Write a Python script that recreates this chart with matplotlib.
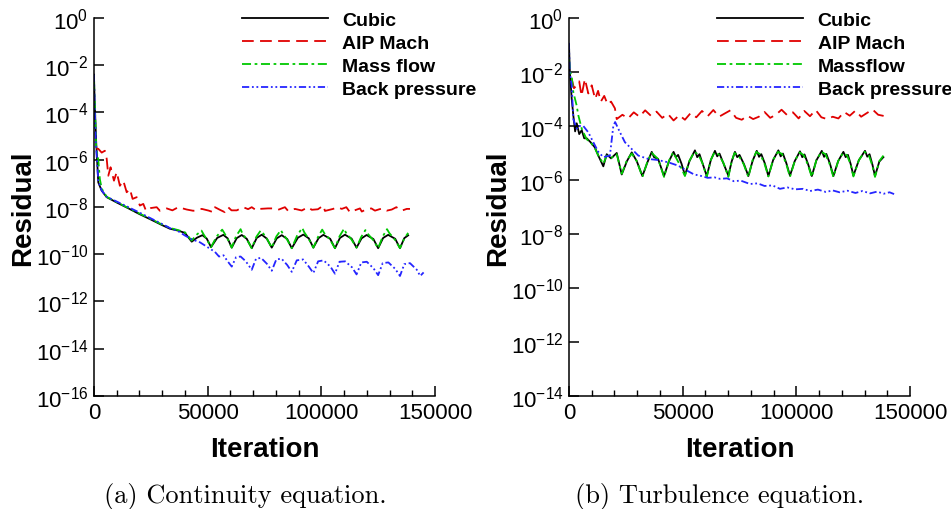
import matplotlib
matplotlib.use('Agg')
import matplotlib.pyplot as plt
from matplotlib.ticker import FixedLocator, NullLocator

plt.rcParams['font.family'] = ['Liberation Sans', 'DejaVu Sans']
plt.rcParams['mathtext.fontset'] = 'custom'
plt.rcParams['mathtext.rm'] = 'Liberation Sans'
plt.rcParams['axes.unicode_minus'] = False

LABELS_A = ['Cubic', 'AIP Mach', 'Mass flow', 'Back pressure']
LABELS_B = ['Cubic', 'AIP Mach', 'Massflow', 'Back pressure']
CAPTIONS = ['(a) Continuity equation.', '(b) Turbulence equation.']

# ---- (a) continuity residual history ----
it_cubic_a = [0, 300, 700, 1000, 1900, 3400, 5600, 10000, 15000, 20000, 25000, 30000, 33400,
              37000, 40000, 43000,
              45300, 47700, 49600, 51500,
              54200, 56900, 58800, 60600,
              62800, 65000, 67200, 69400,
              71600, 73800, 76000, 78200,
              80400, 82600, 85000, 87000,
              89700, 92100, 94500, 96500,
              98800, 100900, 103900, 106000,
              108200, 110400, 113300, 115500,
              117700, 119900, 122900, 125000,
              127200, 129400, 132500, 134600,
              136500, 138200]
res_cubic_a = [4e-3, 3e-4, 3e-5, 5e-6, 1.1e-7, 4.9e-8, 2.6e-8, 1.55e-8, 8.9e-9, 5.0e-9, 2.95e-9, 1.7e-9, 1.2e-9,
               1.0e-9, 8.0e-10, 3.4e-10,
               5.0e-10, 6.4e-10, 4.6e-10, 2.0e-10,
               4.9e-10, 6.6e-10, 4.7e-10, 1.9e-10,
               4.8e-10, 6.5e-10, 4.5e-10, 1.8e-10,
               4.9e-10, 6.7e-10, 4.6e-10, 1.9e-10,
               4.7e-10, 6.4e-10, 4.4e-10, 1.8e-10,
               5.0e-10, 6.8e-10, 4.7e-10, 1.9e-10,
               4.8e-10, 6.6e-10, 4.5e-10, 1.8e-10,
               4.9e-10, 6.7e-10, 4.6e-10, 1.9e-10,
               4.7e-10, 6.5e-10, 4.4e-10, 1.8e-10,
               4.9e-10, 6.6e-10, 4.5e-10, 1.8e-10,
               4.8e-10, 6.3e-10]

it_aip_a = [1000, 1900, 3400, 4800, 5600, 6300, 7300, 8800, 10000, 11400, 12900, 14400, 15800,
            17000, 18800, 20200, 21700, 22900, 25000, 27600, 29000, 32000, 34500, 37100, 40800,
            43700, 47400, 50500, 52500, 53200, 55500, 57600, 59000, 60500, 62800, 65600, 67800,
            69400, 71500, 73000, 76500, 78900, 81000, 84000, 85400, 88400, 91400, 94200, 95800,
            98500, 100900, 101600, 105200, 107000, 109000, 111000, 112600, 115000, 117000, 117800,
            120000, 122000, 123600, 125500, 127000, 128800, 131000, 133000, 135400, 137600, 139000]
res_aip_a = [3.0e-6, 2.9e-6, 2.0e-6, 2.4e-6, 1.1e-6, 2.1e-7, 4.8e-7, 1.3e-7, 3.0e-7, 7.9e-8, 1.3e-7, 4.2e-8, 5.8e-8,
             2.2e-8, 2.6e-8, 1.15e-8, 1.35e-8, 6.9e-9, 9.0e-9, 9.8e-9, 6.9e-9, 8.7e-9, 7.2e-9, 9.8e-9, 7.8e-9,
             6.9e-9, 8.3e-9, 7.0e-9, 6.0e-9, 9.8e-9, 7.5e-9, 6.0e-9, 9.8e-9, 7.2e-9, 7.2e-9, 9.8e-9, 8.1e-9,
             9.8e-9, 7.1e-9, 8.3e-9, 8.7e-9, 8.7e-9, 7.6e-9, 9.8e-9, 6.8e-9, 8.3e-9, 7.1e-9, 9.8e-9, 7.6e-9,
             8.0e-9, 1.15e-8, 6.8e-9, 8.3e-9, 9.8e-9, 8.3e-9, 9.8e-9, 6.0e-9, 7.4e-9, 8.7e-9, 6.4e-9,
             8.1e-9, 8.7e-9, 7.0e-9, 8.0e-9, 8.7e-9, 7.0e-9, 7.8e-9, 9.8e-9, 7.0e-9, 8.3e-9, 8.3e-9]

it_mass_a = [0, 500, 1000, 1900, 2600, 3400, 5600, 10000, 15000, 20000, 25000, 30000, 33400,
             37000, 40000, 43000,
             45000, 47300, 48200, 49800, 51500,
             53900, 56400, 57300, 58900, 60600,
             62500, 64500, 65300, 67400, 69400,
             71400, 73300, 74200, 76200, 78200,
             80200, 82200, 83000, 85000, 87000,
             89300, 91600, 92500, 94500, 96500,
             98600, 100400, 101300, 103800, 106000,
             108000, 110000, 110900, 113200, 115500,
             117500, 119400, 120400, 122800, 125000,
             127000, 128900, 129900, 132400, 134600,
             136500, 138200]
res_mass_a = [2e-3, 1e-4, 3e-6, 1e-6, 1.5e-7, 6e-8, 2.7e-8, 1.6e-8, 9.2e-9, 5.3e-9, 3.1e-9, 1.8e-9, 1.3e-9,
              1.05e-9, 8.5e-10, 3.8e-10,
              6.5e-10, 1.0e-9, 7.0e-10, 4.0e-10, 2.0e-10,
              5.5e-10, 1.1e-9, 8.0e-10, 4.2e-10, 1.9e-10,
              5.8e-10, 1.15e-9, 7.5e-10, 4.0e-10, 1.8e-10,
              5.4e-10, 1.0e-9, 8.2e-10, 4.3e-10, 1.9e-10,
              5.6e-10, 1.05e-9, 7.6e-10, 4.1e-10, 1.8e-10,
              6.0e-10, 1.3e-9, 8.5e-10, 4.4e-10, 1.9e-10,
              5.5e-10, 1.1e-9, 7.8e-10, 4.2e-10, 1.8e-10,
              5.7e-10, 1.2e-9, 8.0e-10, 4.3e-10, 1.9e-10,
              5.3e-10, 1.05e-9, 7.4e-10, 4.0e-10, 1.8e-10,
              5.6e-10, 1.15e-9, 7.9e-10, 4.1e-10, 1.8e-10,
              4.6e-10, 8.0e-10]

it_back_a = [0, 300, 800, 1900, 3400, 5600, 10000, 15000, 20000, 25000, 30000, 34000, 37000, 40000,
             43000, 46600, 50300, 53200,
             55000, 57000, 58800, 60600,
             62500, 64500, 66800, 69400,
             71300, 73500, 76000, 78200,
             80200, 82500, 85000, 87000,
             89200, 92000, 94500, 96500,
             98600, 101000, 104000, 106000,
             108000, 110500, 113500, 115500,
             117600, 120000, 123000, 125000,
             127000, 129500, 132500, 134600,
             136500, 139000, 142000, 143500, 145000]
res_back_a = [4e-3, 2e-4, 6e-6, 1.2e-7, 5e-8, 2.7e-8, 1.7e-8, 1.0e-8, 5.8e-9, 3.3e-9, 1.9e-9, 1.2e-9, 9.5e-10, 6.2e-10,
              4.3e-10, 3.2e-10, 1.9e-10, 1.26e-10,
              8.0e-11, 9.0e-11, 5.0e-11, 3.0e-11,
              7.5e-11, 8.0e-11, 5.0e-11, 2.2e-11,
              6.5e-11, 7.0e-11, 4.0e-11, 2.0e-11,
              6.0e-11, 6.5e-11, 3.5e-11, 1.8e-11,
              5.5e-11, 6.0e-11, 3.0e-11, 1.6e-11,
              5.0e-11, 5.5e-11, 3.0e-11, 1.5e-11,
              4.8e-11, 5.0e-11, 2.8e-11, 1.4e-11,
              4.5e-11, 4.8e-11, 2.5e-11, 1.3e-11,
              4.2e-11, 4.5e-11, 2.4e-11, 1.2e-11,
              3.8e-11, 4.2e-11, 2.2e-11, 1.2e-11, 1.7e-11]

# ---- (b) turbulence residual history ----
it_cubic_b = [0, 400, 1200, 1900, 2700, 3400, 4500, 5600, 6700, 7800, 9500, 11400, 12900, 15100,
              16600, 18500, 21000, 23200, 25500, 27600, 28800, 29800, 32300, 34500, 36400, 37400,
              39200, 41800, 44000, 46000, 47000, 48000, 49500, 51000,
              53000, 55400, 56400, 57400, 58800, 60600,
              62400, 64200, 65200, 66200, 68000, 70100,
              71600, 73000, 74000, 75000, 77000, 78900,
              80800, 82600, 83600, 84600, 86200, 87700,
              89800, 92100, 93100, 94100, 95600, 97200,
              99300, 101600, 102600, 103600, 105200, 106800,
              108800, 111200, 112200, 113200, 114800, 116300,
              118400, 120700, 121700, 122700, 123900, 125100,
              127500, 130200, 131200, 132200, 133500, 134600,
              136500, 138300]
res_cubic_b = [1e-1, 1e-2, 1e-3, 2.5e-4, 6.3e-5, 1.26e-4, 5e-5, 7e-5, 3.5e-5, 3.5e-5, 2.5e-5, 1.6e-5, 8e-6, 3.2e-6,
               9e-6, 6.3e-6, 1e-5, 1.6e-6, 5e-6, 1.05e-5, 7e-6, 5e-6, 1.4e-6, 4.5e-6, 1.1e-5, 7e-6,
               6e-6, 1.4e-6, 5e-6, 1.1e-5, 7e-6, 8.5e-6, 4e-6, 1.5e-6,
               5e-6, 1.25e-5, 7e-6, 9e-6, 4e-6, 1.4e-6,
               5.5e-6, 1.2e-5, 7.5e-6, 9.5e-6, 4e-6, 1.45e-6,
               5e-6, 1.1e-5, 7e-6, 8.5e-6, 3.8e-6, 1.4e-6,
               5.2e-6, 1.2e-5, 7.2e-6, 9e-6, 4e-6, 1.4e-6,
               5.5e-6, 1.25e-5, 7.5e-6, 9.5e-6, 4.2e-6, 1.45e-6,
               5e-6, 1.15e-5, 7e-6, 8.8e-6, 3.8e-6, 1.4e-6,
               5.3e-6, 1.2e-5, 7.2e-6, 9.2e-6, 4e-6, 1.4e-6,
               5e-6, 1.1e-5, 7e-6, 8.5e-6, 3.9e-6, 1.45e-6,
               5.4e-6, 1.2e-5, 7.3e-6, 9e-6, 3.6e-6, 1.4e-6,
               4.8e-6, 7e-6]

it_aip_b = [1200, 2200, 3400, 4500, 5500, 7000, 8500, 10000, 11500, 12800, 14000, 15500, 17000,
            18500, 20200, 21000, 23500, 26000, 28500, 31000, 33500, 36000, 38500, 41000, 43500,
            46000, 48500, 51000, 53500, 56000, 58500, 61000, 63500, 66000, 68500, 71000, 73500,
            76000, 78500, 81000, 83500, 86000, 88500, 91000, 93500, 96000, 98500, 101000, 103500,
            106000, 108500, 111000, 113500, 116000, 118500, 121000, 123500, 126000, 128500,
            131000, 133500, 136000, 139000]
res_aip_b = [5.5e-3, 2.5e-3, 3.2e-3, 4.5e-3, 1.3e-3, 5.5e-3, 1.6e-3, 3.2e-3, 1.0e-3, 2.0e-3, 8e-4, 1.3e-3, 6.3e-4,
             8e-4, 4.5e-4, 1.8e-4, 2.6e-4, 1.9e-4, 3.2e-4, 2.2e-4, 3.8e-4, 2.4e-4, 3.4e-4, 2.0e-4, 2.8e-4,
             1.6e-4, 2.5e-4, 1.7e-4, 3.0e-4, 2.1e-4, 3.6e-4, 2.3e-4, 3.9e-4, 2.2e-4, 2.9e-4, 3.8e-4, 2.0e-4,
             1.7e-4, 2.4e-4, 1.8e-4, 2.2e-4, 3.3e-4, 2.0e-4, 2.6e-4, 4.0e-4, 2.5e-4, 3.2e-4, 1.9e-4, 3.6e-4,
             2.3e-4, 3.9e-4, 2.1e-4, 1.8e-4, 2.2e-4, 1.9e-4, 3.3e-4, 2.4e-4, 3.7e-4, 2.2e-4,
             3.0e-4, 4.1e-4, 2.6e-4, 2.3e-4]

it_mass_b = [0, 500, 1200, 1900, 3400, 4100, 5600, 6700, 7800, 9500, 11400, 12900, 15100,
             16600, 18500, 21000, 23200, 25500, 27600, 29800, 32300, 34500, 36400, 39200, 41800,
             44000, 45800, 48500, 51000,
             53000, 55200, 57000, 58800, 60600,
             62400, 64000, 65800, 68000, 70100,
             71600, 72800, 74600, 76800, 78900,
             80800, 82400, 84200, 86000, 87700,
             89800, 91900, 93700, 95500, 97200,
             99300, 101400, 103200, 105000, 106800,
             108800, 111000, 112800, 114600, 116300,
             118400, 120500, 122300, 123800, 125100,
             127500, 130000, 131800, 133300, 134600,
             136500, 138300]
res_mass_b = [3e-2, 1e-2, 7e-3, 1.8e-3, 5.6e-4, 2.5e-4, 8e-5, 5e-5, 3.2e-5, 2.5e-5, 1.5e-5, 8e-6, 4e-6,
              8e-6, 6.5e-6, 9e-6, 1.7e-6, 5.5e-6, 9.5e-6, 5e-6, 1.3e-6, 4.8e-6, 1.0e-5, 6e-6, 1.3e-6,
              5.2e-6, 1.05e-5, 4e-6, 1.4e-6,
              5.2e-6, 1.1e-5, 8.5e-6, 4e-6, 1.3e-6,
              5.6e-6, 1.05e-5, 9e-6, 4.2e-6, 1.3e-6,
              5e-6, 1.0e-5, 8e-6, 3.9e-6, 1.3e-6,
              5.5e-6, 1.1e-5, 8.8e-6, 4e-6, 1.35e-6,
              5.6e-6, 1.1e-5, 9.2e-6, 4.1e-6, 1.3e-6,
              5e-6, 1.05e-5, 8.4e-6, 3.8e-6, 1.3e-6,
              5.4e-6, 1.1e-5, 9e-6, 4e-6, 1.3e-6,
              5e-6, 1.0e-5, 8.2e-6, 3.9e-6, 1.35e-6,
              5.4e-6, 1.1e-5, 8.6e-6, 3.7e-6, 1.3e-6,
              5e-6, 8e-6]

it_back_b = [0, 300, 1200, 1900, 3400, 4100, 6300, 8500, 10700, 12900, 15100, 18000, 19500, 20300,
             22400, 24600, 27600, 30500, 34900, 39000, 43700, 48000, 52000, 55000, 57600, 61000,
             64000, 66400, 69500, 72500, 75500, 79600, 83000, 86000, 89500, 92800, 96000, 99500,
             103000, 106000, 109500, 113000, 116000, 119000, 122500, 126000, 129000, 132500,
             135500, 138500, 141000, 143000]
res_back_b = [1.2e-1, 1e-2, 3.2e-3, 1.8e-4, 8e-5, 1.0e-4, 1.0e-4, 5.8e-5, 2.5e-5, 1.1e-5, 7e-6, 8e-6, 1.0e-4, 1.4e-4,
              5.9e-5, 2.5e-5, 1.4e-5, 8e-6, 6e-6, 5.5e-6, 4.5e-6, 3.4e-6, 2.2e-6, 1.6e-6, 1.45e-6, 1.2e-6,
              1.25e-6, 1.1e-6, 1.15e-6, 9e-7, 9.5e-7, 7.1e-7, 7.5e-7, 6e-7, 6.3e-7, 4.7e-7, 5.3e-7, 4.5e-7,
              4.7e-7, 3.9e-7, 4.4e-7, 3.6e-7, 4.1e-7, 3.5e-7, 4.0e-7, 3.3e-7, 3.9e-7, 3.2e-7,
              3.7e-7, 3.1e-7, 3.5e-7, 3.0e-7]

YTICKS_A = [10.0 ** -k for k in range(0, 17, 2)]
YTICKS_B = [10.0 ** -k for k in range(0, 15, 2)]

COLORS = ['black', '#e00000', '#00c800', '#2525ff']
DASHES = [None, (6.5, 3.5), (5, 2, 1.5, 2), (4, 1.5, 1, 1.5, 1, 1.5)]

fig = plt.figure(figsize=(9.51, 5.10), dpi=100)
ax_a = fig.add_axes([0.0988, 0.2216, 0.3586, 0.7412])
ax_b = fig.add_axes([0.5983, 0.2216, 0.3586, 0.7412])

panels = [
    (ax_a, [(it_cubic_a, res_cubic_a), (it_aip_a, res_aip_a),
            (it_mass_a, res_mass_a), (it_back_a, res_back_a)], LABELS_A, YTICKS_A),
    (ax_b, [(it_cubic_b, res_cubic_b), (it_aip_b, res_aip_b),
            (it_mass_b, res_mass_b), (it_back_b, res_back_b)], LABELS_B, YTICKS_B),
]

for ax, series, labels, yticks in panels:
    for (it, res), lab, col, dsh in zip(series, labels, COLORS, DASHES):
        line, = ax.plot(it, res, color=col, lw=1.3, label=lab)
        if dsh is not None:
            line.set_dashes(dsh)
    ax.set_yscale('log')
    ax.set_ylim(yticks[-1], yticks[0])
    ax.set_xlim(0, 150000)
    ax.yaxis.set_major_locator(FixedLocator(yticks))
    ax.yaxis.set_minor_locator(NullLocator())
    ax.set_xticks([0, 50000, 100000, 150000])
    ax.set_xticks(range(0, 150001, 10000), minor=True)
    ax.set_xticklabels(['0', '50000', '100000', '150000'])
    ax.spines['top'].set_visible(False)
    ax.spines['right'].set_visible(False)
    for sp in ('left', 'bottom'):
        ax.spines[sp].set_linewidth(1.1)
    ax.tick_params(which='major', direction='in', length=7, width=1.1, labelsize=16, pad=4)
    ax.tick_params(which='minor', direction='in', length=4, width=1.0)
    ax.set_xlabel('Iteration', fontsize=20, fontweight='bold')
    ax.set_ylabel('Residual', fontsize=20, fontweight='bold')
    ax.xaxis.set_label_coords(0.5, -0.106)
    ax.yaxis.set_label_coords(-0.17, 0.5)
    ax.legend(loc='upper left', bbox_to_anchor=(0.434, 1.018), frameon=False,
              prop={'weight': 'bold', 'size': 14}, handlelength=4.4,
              handletextpad=0.77, labelspacing=0.28, borderpad=0, borderaxespad=0)

fig.text(0.2576, 0.0255, CAPTIONS[0], family='cmr10', fontsize=19, ha='center', va='center')
fig.text(0.757, 0.0255, CAPTIONS[1], family='cmr10', fontsize=19, ha='center', va='center')

fig.savefig('out.png', dpi=100)
